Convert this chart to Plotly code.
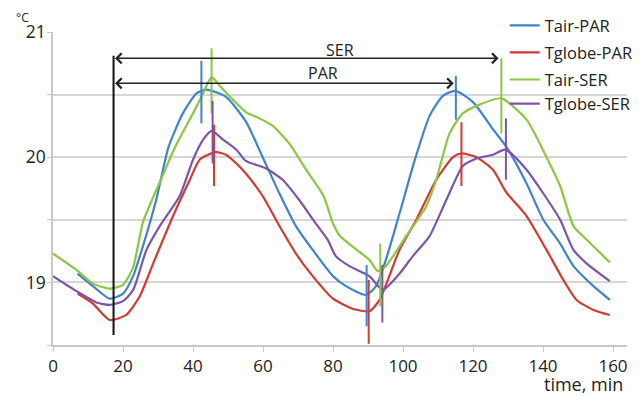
import plotly.graph_objects as go

# ---- data ----
tair_par_x = [7, 11.4, 16.2, 20, 22.9, 25.7, 29.5, 33, 37.1, 41, 43.8, 49.5, 55.2, 59.9, 64.7, 69.4, 74.2, 80,
              83.7, 89.4, 92.3, 95.1, 99, 103.5, 107.6, 111.4, 115, 120, 125.8, 129.6, 135.3, 140.1, 144.9,
              148.7, 154.4, 159.1]
tair_par_y = [19.07, 18.97, 18.87, 18.91, 19.05, 19.29, 19.66, 20.08, 20.35, 20.51, 20.54, 20.48, 20.28, 20.0,
              19.71, 19.45, 19.26, 19.05, 18.97, 18.9, 18.97, 19.18, 19.55, 19.99, 20.33, 20.49, 20.53, 20.44,
              20.22, 20.08, 19.79, 19.5, 19.31, 19.13, 18.97, 18.86]

tglobe_par_x = [7, 11.4, 16.2, 20.9, 24.8, 28.6, 34.3, 39.1, 41.9, 46.5, 49.4, 52.4, 55.1, 59.9, 64.7, 69.4,
                74.2, 80, 85.6, 90.4, 93.3, 99, 103.8, 109.5, 114.3, 116.7, 121, 125.7, 129.5, 135.3, 141,
                145.8, 149.6, 154.4, 159.1]
tglobe_par_y = [18.91, 18.83, 18.7, 18.74, 18.89, 19.15, 19.53, 19.82, 19.98, 20.04, 20.02, 19.95, 19.87,
                19.69, 19.45, 19.23, 19.05, 18.87, 18.79, 18.77, 18.86, 19.26, 19.5, 19.82, 20.0, 20.03, 20.0,
                19.9, 19.72, 19.53, 19.26, 19.02, 18.86, 18.78, 18.74]

tair_ser_x = [0, 6.7, 11.4, 16.2, 20, 22.9, 25.7, 30.5, 35.2, 40, 42.9, 45.3, 48, 51.4, 55.1, 59, 62.8, 67.5,
              72.3, 77.3, 80, 82, 86.8, 90.4, 92.8, 95.1, 100.9, 106.5, 109.5, 113.3, 117.1, 121.9, 128.1,
              135.3, 141, 144.9, 148.7, 152.5, 159.1]
tair_ser_y = [19.23, 19.1, 18.99, 18.95, 18.98, 19.12, 19.48, 19.8, 20.1, 20.35, 20.51, 20.64, 20.56, 20.46,
              20.36, 20.31, 20.25, 20.11, 19.9, 19.69, 19.47, 19.37, 19.26, 19.18, 19.09, 19.13, 19.37, 19.6,
              19.82, 20.19, 20.35, 20.42, 20.47, 20.3, 20.0, 19.77, 19.45, 19.34, 19.16]

tglobe_ser_x = [0, 6.7, 12.4, 16.2, 20, 22.9, 26.7, 30.5, 36.2, 40, 42.9, 45.3, 48.6, 52.4, 55.1, 60.9, 65.6,
                70.3, 75.1, 78.5, 80.8, 84.7, 90.4, 94.2, 99, 102.8, 107.6, 112.4, 117.1, 121, 125.7, 129.3,
                135.3, 140.1, 144.9, 148.7, 152.5, 159.1]
tglobe_ser_y = [19.05, 18.93, 18.84, 18.82, 18.85, 18.94, 19.26, 19.45, 19.69, 19.98, 20.14, 20.21, 20.14,
                20.06, 19.97, 19.91, 19.82, 19.66, 19.47, 19.34, 19.21, 19.13, 19.05, 18.94, 19.07, 19.21,
                19.37, 19.66, 19.93, 19.99, 20.02, 20.06, 19.9, 19.71, 19.5, 19.26, 19.15, 19.01]

series_names = ["Tair-PAR", "Tglobe-PAR", "Tair-SER", "Tglobe-SER"]

# short vertical markers at peaks / troughs: x, y_low, y_high per series
marker_x = {
    "Tair-PAR": [42.4, 89.6, 115.1],
    "Tglobe-PAR": [46.0, 90.2, 116.7],
    "Tair-SER": [45.3, 93.5, 128.1],
    "Tglobe-SER": [45.6, 94.1, 129.4],
}
marker_lo = {
    "Tair-PAR": [20.27, 18.65, 20.30],
    "Tglobe-PAR": [19.77, 18.51, 19.77],
    "Tair-SER": [20.35, 18.81, 20.19],
    "Tglobe-SER": [19.95, 18.68, 19.82],
}
marker_hi = {
    "Tair-PAR": [20.77, 19.14, 20.65],
    "Tglobe-PAR": [20.26, 19.02, 20.28],
    "Tair-SER": [20.87, 19.31, 20.79],
    "Tglobe-SER": [20.45, 19.14, 20.31],
}

# period brackets
start_x = 17.3
start_line_y = [18.58, 20.81]
ser_end_x, ser_y = 127.3, 20.79
par_end_x, par_y = 114.5, 20.59
ser_label = ("SER", 81.9, 20.86)
par_label = ("PAR", 77.2, 20.67)

x_ticks = [0, 20, 40, 60, 80, 100, 120, 140, 160]
y_tickvals = [18.5, 19, 19.5, 20, 20.5, 21]
y_ticktext = ["", "19", "", "20", "", "21"]

colors = {
    "Tair-PAR": "#3f83cc",
    "Tglobe-PAR": "#d23b33",
    "Tair-SER": "#8dc641",
    "Tglobe-SER": "#7d55a8",
}

FONT = "Open Sans"
fig = go.Figure()

legend_ids = ["legend", "legend2", "legend3", "legend4"]
legend_rows_y = [1.0202, 0.9338, 0.8474, 0.7706]   # paper y of each legend row

xs = [tair_par_x, tglobe_par_x, tair_ser_x, tglobe_ser_x]
ys = [tair_par_y, tglobe_par_y, tair_ser_y, tglobe_ser_y]
for name, x, y, lid in zip(series_names, xs, ys, legend_ids):
    fig.add_trace(go.Scatter(
        x=x, y=y, mode="lines", name=name, legend=lid,
        line=dict(color=colors[name], width=2.2, shape="spline", smoothing=0.6),
    ))

for name in series_names:
    mx, my = [], []
    for xv, lo, hi in zip(marker_x[name], marker_lo[name], marker_hi[name]):
        mx += [xv, xv, None]
        my += [lo, hi, None]
    fig.add_trace(go.Scatter(x=mx, y=my, mode="lines", showlegend=False, hoverinfo="skip",
                             line=dict(color=colors[name], width=2)))

fig.add_trace(go.Scatter(x=[start_x, start_x], y=start_line_y, mode="lines", showlegend=False,
                         hoverinfo="skip", line=dict(color="#111111", width=2)))

for end_x, yv in [(ser_end_x, ser_y), (par_end_x, par_y)]:
    fig.add_annotation(x=end_x, y=yv, ax=start_x, ay=yv, xref="x", yref="y", axref="x", ayref="y",
                       text="", showarrow=True, arrowhead=4, startarrowhead=4, arrowside="end+start",
                       arrowsize=1.3, startarrowsize=1.3, arrowwidth=1.5, arrowcolor="#222222",
                       standoff=0, startstandoff=0)

for txt, xv, yv in [ser_label, par_label]:
    fig.add_annotation(x=xv, y=yv, text=txt, showarrow=False, xref="x", yref="y",
                       font=dict(family=FONT, size=16, color="#222222"))

fig.add_annotation(x=0.995, y=-0.126, xref="paper", yref="paper", xanchor="right", yanchor="middle",
                   text="time, min", showarrow=False, borderpad=0,
                   font=dict(family=FONT, size=18, color="#222222"))
fig.add_annotation(x=-0.053, y=1.046, xref="paper", yref="paper", xanchor="center", yanchor="middle",
                   text="°C", showarrow=False, font=dict(family=FONT, size=12, color="#222222"))

# white backdrop behind legend area (hides gridlines only, like the reference legend box)
fig.add_shape(type="rect", xref="paper", yref="paper", x0=0.80, x1=1.0, y0=0.745, y1=1.01,
              fillcolor="white", line=dict(width=0), layer="between")

legend_style = dict(x=0.787, xanchor="left", yanchor="middle", bgcolor="rgba(0,0,0,0)",
                    font=dict(family=FONT, size=16.5, color="#222222"), itemwidth=30)
layout_legends = {lid: dict(legend_style, y=ly) for lid, ly in zip(legend_ids, legend_rows_y)}

fig.update_layout(
    width=632, height=388,
    margin=dict(l=45, r=13, t=24, b=51, autoexpand=False),
    paper_bgcolor="white", plot_bgcolor="white",
    font=dict(family=FONT, size=17, color="#222222"),
    showlegend=True,
    **layout_legends,
)
fig.update_xaxes(range=[0, 164], tickvals=x_ticks, showgrid=False, showline=True, linecolor="#c8c8c8",
                 linewidth=1.5, ticks="outside", ticklen=5, tickcolor="#c8c8c8", zeroline=False,
                 tickfont=dict(family=FONT, size=17, color="#222222"))
fig.update_yaxes(range=[18.5, 21], tickvals=y_tickvals, ticktext=y_ticktext, showgrid=True,
                 gridcolor="#d6d6d6", gridwidth=1.5, showline=True, linecolor="#c8c8c8", linewidth=1.5,
                 ticks="outside", ticklen=4, tickcolor="#c8c8c8", zeroline=False, ticklabelstandoff=-2,
                 tickfont=dict(family=FONT, size=17.5, color="#222222"))

fig.write_html("out.html")
